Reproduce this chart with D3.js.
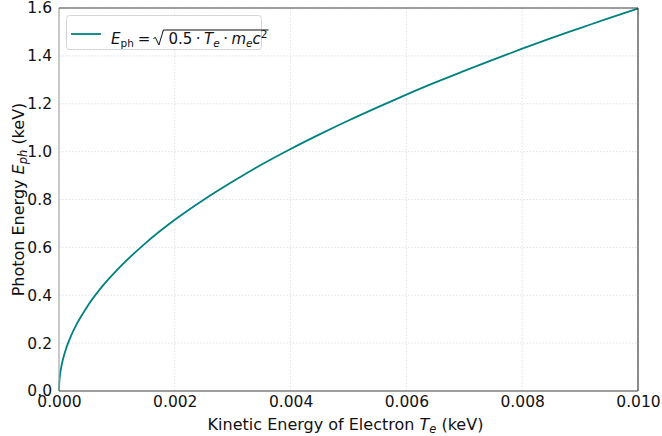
<!DOCTYPE html>
<html>
<head>
<meta charset="utf-8">
<script src="https://cdn.jsdelivr.net/npm/d3@7"></script>
<style>
  html, body { margin: 0; padding: 0; background: #fff; }
  svg { display: block; font-family: "DejaVu Sans", sans-serif; }
</style>
</head>
<body>
<svg id="chart" width="662" height="436"></svg>
<script>
// Electron kinetic energy (keV) and the matching photon energy (keV)
const kineticEnergy = [0, 0.000005, 0.00002, 0.00005, 0.0001, 0.0002, 0.0003, 0.0005, 0.00075,
  0.001, 0.0015, 0.002, 0.0025, 0.003, 0.0035, 0.004, 0.0045, 0.005, 0.0055,
  0.006, 0.0065, 0.007, 0.0075, 0.008, 0.0085, 0.009, 0.0095, 0.01];
const photonEnergy = [0, 0.036, 0.072, 0.113, 0.160, 0.226, 0.277, 0.357, 0.438,
  0.505, 0.619, 0.715, 0.799, 0.875, 0.946, 1.011, 1.072, 1.130, 1.185,
  1.238, 1.289, 1.337, 1.384, 1.430, 1.474, 1.516, 1.558, 1.598];
const xTicks = [0, 0.002, 0.004, 0.006, 0.008, 0.010];
const yTicks = [0, 0.2, 0.4, 0.6, 0.8, 1.0, 1.2, 1.4, 1.6];

const svg = d3.select("#chart");
const plotL = 59, plotR = 638, plotT = 8, plotB = 391;
const lineColor = "#008080";

const x = d3.scaleLinear().domain([0, 0.01]).range([plotL, plotR]);
const y = d3.scaleLinear().domain([0, 1.6]).range([plotB, plotT]);

// grid
const grid = svg.append("g").attr("stroke", "#dcdcdc").attr("stroke-width", 0.8)
  .attr("stroke-dasharray", "1.6,1.6");
xTicks.forEach(t => grid.append("line").attr("x1", x(t)).attr("x2", x(t)).attr("y1", plotT).attr("y2", plotB));
yTicks.forEach(t => grid.append("line").attr("x1", plotL).attr("x2", plotR).attr("y1", y(t)).attr("y2", y(t)));

// axes (tick marks hidden, labels only)
const xAxis = svg.append("g").attr("transform", `translate(0,${plotB})`)
  .call(d3.axisBottom(x).tickValues(xTicks).tickFormat(d3.format(".3f")).tickSize(0).tickPadding(5));
const yAxis = svg.append("g").attr("transform", `translate(${plotL},0)`)
  .call(d3.axisLeft(y).tickValues(yTicks).tickFormat(d3.format(".1f")).tickSize(0).tickPadding(7));
[xAxis, yAxis].forEach(a => {
  a.select(".domain").remove();
  a.selectAll("text").attr("font-size", 15.5).attr("fill", "#111").attr("font-family", "DejaVu Sans");
});

// curve
const pts = kineticEnergy.map((t, i) => [t, photonEnergy[i]]);
svg.append("path").datum(pts)
  .attr("fill", "none").attr("stroke", lineColor).attr("stroke-width", 1.8)
  .attr("d", d3.line().x(d => x(d[0])).y(d => y(d[1])).curve(d3.curveMonotoneX));

// spines
svg.append("line").attr("x1", plotL).attr("x2", plotL).attr("y1", plotT).attr("y2", plotB)
  .attr("stroke", "#aaa").attr("stroke-width", 1.2);
svg.append("line").attr("x1", plotL).attr("x2", plotR).attr("y1", plotB).attr("y2", plotB)
  .attr("stroke", "#444").attr("stroke-width", 1.2);
svg.append("line").attr("x1", plotL).attr("x2", plotR).attr("y1", plotT).attr("y2", plotT)
  .attr("stroke", "#444").attr("stroke-width", 1.2);
svg.append("line").attr("x1", plotR).attr("x2", plotR).attr("y1", plotT).attr("y2", plotB)
  .attr("stroke", "#444").attr("stroke-width", 1.2);

// axis titles
const xt = svg.append("text").attr("x", (plotL + plotR) / 2 - 3).attr("y", 430)
  .attr("text-anchor", "middle").attr("font-size", 16).attr("fill", "#111");
xt.append("tspan").text("Kinetic Energy of Electron ");
xt.append("tspan").attr("font-style", "italic").text("T");
xt.append("tspan").attr("font-style", "italic").attr("font-size", 11.5).attr("dy", 3).text("e");
xt.append("tspan").attr("dy", -3).text(" (keV)");

const yt = svg.append("text").attr("transform", `translate(24,${(plotT + plotB) / 2}) rotate(-90)`)
  .attr("text-anchor", "middle").attr("font-size", 16).attr("fill", "#111");
yt.append("tspan").text("Photon Energy ");
yt.append("tspan").attr("font-style", "italic").text("E");
yt.append("tspan").attr("font-style", "italic").attr("font-size", 11.5).attr("dy", 3).text("ph");
yt.append("tspan").attr("dy", -3).text(" (keV)");

// legend
const lg = svg.append("g");
lg.append("rect").attr("x", 66.5).attr("y", 15.5).attr("width", 195).attr("height", 34).attr("rx", 3)
  .attr("fill", "#fff").attr("fill-opacity", 0.85).attr("stroke", "#d5d5d5").attr("stroke-width", 1);
lg.append("line").attr("x1", 71).attr("x2", 101).attr("y1", 34).attr("y2", 34)
  .attr("stroke", lineColor).attr("stroke-width", 1.8);

const fs = 15, sub = 10.5, base = 44;
let cx = 111;
function piece(str, opts = {}) {
  const t = lg.append("text").attr("x", cx).attr("y", base + (opts.dy || 0))
    .attr("font-size", opts.size || fs).attr("fill", "#111")
    .attr("font-style", opts.italic ? "italic" : "normal").text(str);
  cx += t.node().getComputedTextLength();
  return t;
}
piece("E", { italic: true });
piece("ph", { size: sub, dy: 3 });
cx += 4; piece("="); cx += 3;
// radical sign drawn as a stroke, with its bar over the radicand
const r0 = cx;
const barStart = r0 + 10;
cx += 15;
piece("0.5"); cx += 3.5; piece("\u00B7"); cx += 3.5;
piece("T", { italic: true }); piece("e", { italic: true, size: sub, dy: 3 });
cx += 3.5; piece("\u00B7"); cx += 3.5;
piece("m", { italic: true }); piece("e", { italic: true, size: sub, dy: 3 });
piece("c", { italic: true }); piece("2", { size: sub, dy: -6.5 });
lg.append("path")
  .attr("d", `M${r0},${base - 5.5} L${r0 + 2},${base - 6.5} L${r0 + 5.5},${base + 1} L${barStart},${base - 14} L${cx + 1},${base - 14}`)
  .attr("fill", "none").attr("stroke", "#111").attr("stroke-width", 1).attr("stroke-linejoin", "miter");
</script>
</body>
</html>
